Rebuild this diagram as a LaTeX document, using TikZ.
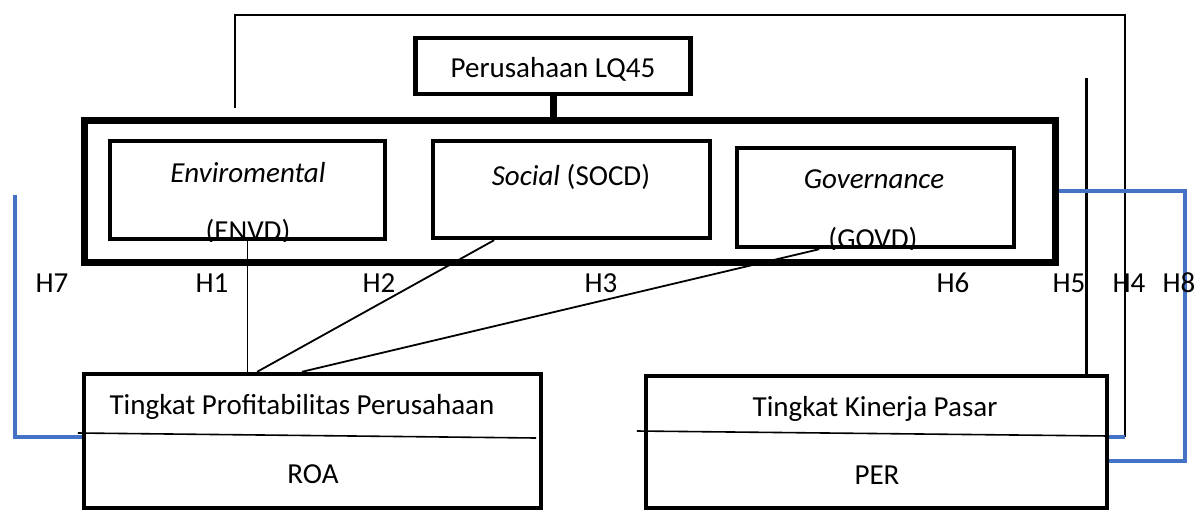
\documentclass[tikz,border=0pt]{standalone}
\usepackage{fontspec}
\setmainfont{Carlito}
\usepackage{tikz}
\usetikzlibrary{calc}
\definecolor{linkblue}{RGB}{68,114,196}

\begin{document}
\begin{tikzpicture}[x=0.5pt, y=-0.5pt,
        every node/.style={font=\fontsize{14.5}{17}\selectfont, inner sep=0pt},
        varbox/.style={draw, line width=2.2pt},
        groupbox/.style={draw, line width=3.5pt},
        link/.style={line width=0.9pt},
        bluelink/.style={linkblue, line width=1.6pt},
        divider/.style={line width=0.8pt}]
        \useasboundingbox (0,0) rectangle (1195,510);

        % Perusahaan LQ45
        \node[varbox, minimum width=137.5pt, minimum height=28pt] (lq) at (553,66) {};
        \node[anchor=base] (lqtxt) at (553,77) {Perusahaan LQ45};

        % ESG group
        \node[groupbox, minimum width=485.5pt, minimum height=71pt] (esg) at (569.5,191) {};
        \draw[line width=3.5pt] (lq.south) -- (lq.south |- esg.north);

        \node[varbox, minimum width=137.5pt, minimum height=49pt] (envd) at (247.5,190) {};
        \node[anchor=base] (envdtxt) at (248,182) {\textit{Enviromental}};
        \begin{scope}
            \clip (envd.north west) rectangle (envd.south east);
            \node[anchor=base] (envdcode) at (248,240) {(ENVD)};
        \end{scope}

        \node[varbox, minimum width=138.5pt, minimum height=48.5pt] (socd) at (571.5,189.5) {};
        \node[anchor=base] (socdtxt) at (571,185) {\textit{Social} (SOCD)};

        \node[varbox, minimum width=138.5pt, minimum height=49.5pt] (govd) at (875.5,197.5) {};
        \node[anchor=base] (govdtxt) at (874,188) {\textit{Governance}};
        \begin{scope}
            \clip (govd.north west) rectangle (govd.south east);
            \node[anchor=base] (govdcode) at (873,248) {(GOVD)};
        \end{scope}

        % ROA
        \node[varbox, minimum width=228.5pt, minimum height=67pt] (roa) at (312.5,441) {};
        \node[anchor=base] (roatxt) at (302,414) {Tingkat Profitabilitas Perusahaan};
        \node[anchor=base] (roacode) at (313,483) {ROA};
        \draw[divider] ($(roa.west)+(-4,-8)$) -- ($(roa.east)+(-7,-3)$);

        % PER
        \node[varbox, minimum width=230.5pt, minimum height=66pt] (per) at (876.5,442) {};
        \node[anchor=base] (pertxt) at (875,416) {Tingkat Kinerja Pasar};
        \node[anchor=base] (percode) at (877,484) {PER};
        \draw[divider] ($(per.west)+(-7,-11)$) -- ($(per.east)+(0,-6)$);

        % H1 - H3
        \draw[link] (envd.south) -- (envd.south |- roa.north);
        \draw[link] ($(socd.south west)!0.225!(socd.south east)$) -- ($(roa.north west)!0.38!(roa.north east)$);
        \draw[link] ($(govd.south west)!0.30!(govd.south east)$) -- ($(roa.north west)!0.477!(roa.north east)$);

        % H4 and H5
        \coordinate (h4start) at (235,108);
        \coordinate (h4corner) at (1125,15);
        \coordinate (h4end) at (1125,437);
        \draw[line width=1pt] (h4start) |- (h4corner) -- (h4end);
        \draw[bluelink] (h4end -| per.east) -- (h4end);
        \coordinate (h5top) at (1086,78);
        \draw[line width=1.5pt] (h5top) -- (h5top |- per.north);

        % H7 and H8
        \coordinate (h7top) at (15,195);
        \coordinate (h7bot) at (15,437);
        \draw[bluelink] (h7top) -- (h7bot) -- (h7bot -| roa.west);
        \coordinate (h8bot) at (1185,461);
        \draw[bluelink] (esg.east) -| (h8bot) -- (h8bot -| per.east);

        % labels
        \node[anchor=base] (h7) at (52,292) {H7};
        \node[anchor=base] (h1) at (212,292) {H1};
        \node[anchor=base] (h2) at (379,292) {H2};
        \node[anchor=base] (h3) at (601,292) {H3};
        \node[anchor=base] (h6) at (953,292) {H6};
        \node[anchor=base] (h5) at (1069,292) {H5};
        \node[anchor=base] (h4) at (1129,292) {H4};
        \node[anchor=base] (h8) at (1179,292) {H8};
    \end{tikzpicture}
\end{document}
